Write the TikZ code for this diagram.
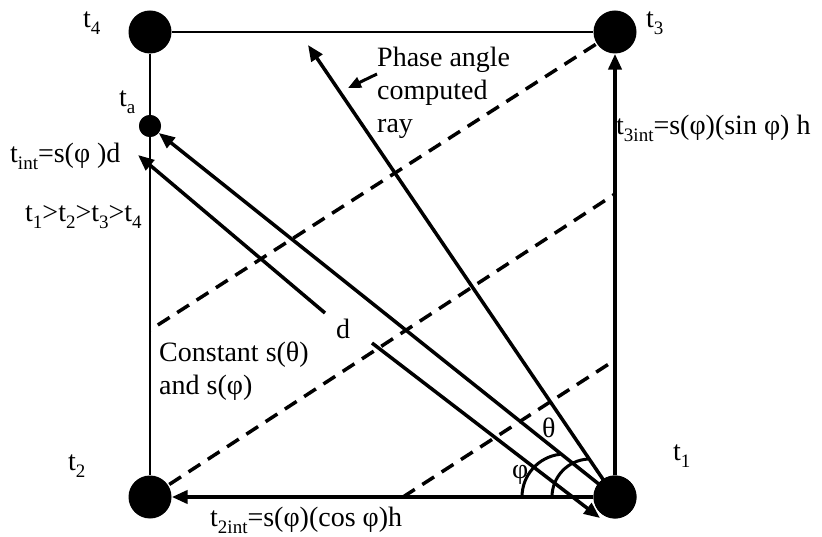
\documentclass[tikz,border=0pt]{standalone}
\usepackage{fontspec}
\setmainfont{Liberation Serif}
\usetikzlibrary{arrows.meta}
\newcommand\subs[1]{\raisebox{-0.25em}{\fontsize{19}{19}\selectfont #1}}
\begin{document}
\begin{tikzpicture}[x=1pt,y=-1pt,
  bigdot/.style={circle,fill=black,draw=none,minimum size=43pt,inner sep=0pt},
  smalldot/.style={circle,fill=black,draw=none,minimum size=22pt,inner sep=0pt},
  lbl/.style={inner sep=0pt,anchor=base west,font=\fontsize{28}{33}\selectfont},
  blk/.style={inner sep=0pt,anchor=north west,align=left,font=\fontsize{28}{33}\selectfont},
  thinline/.style={line width=1.5pt},
  thickarrow/.style={line width=4pt,-{Triangle[length=16pt,width=13pt]}},
  diagarrow/.style={line width=3.5pt,-{Triangle[length=16pt,width=13pt]}},
  dashline/.style={line width=3.5pt,dash pattern=on 14pt off 9pt},
  anglearc/.style={line width=3pt}]
\useasboundingbox (0,0) rectangle (822,537);
% corner dots
\node[bigdot] (t4) at (150,32) {};
\node[bigdot] (t3) at (615,32) {};
\node[bigdot] (t2) at (150,497) {};
\node[bigdot] (t1) at (615,497) {};
\node[smalldot] (ta) at (150,126) {};
% free ends
\coordinate (d1l) at (150,330);
\coordinate (d2r) at (615,194);
\coordinate (d3b) at (403,497);
\coordinate (d3r) at (615,360);
\coordinate (rayend) at (308,45);
\coordinate (dA) at (138,155);
\coordinate (dAg) at (325,313);
\coordinate (dBg) at (372,343);
\coordinate (dB) at (600,518);
\coordinate (pfrom) at (377,74);
\coordinate (pto) at (348,88);
% dashed lines
\draw[dashline] (t3.center) -- (d1l);
\draw[dashline] (t2.center) -- (d2r);
\draw[dashline] (d3b) -- (d3r);
% thin edges
\draw[thinline] (t4) -- (t3);
\draw[thinline] (t4) -- (t2);
% thick edges
\draw[thickarrow] (t1) -- (t3);
\draw[thickarrow] (t1) -- (t2);
% diagonal arrows
\draw[diagarrow] (t1.center) -- (ta);
\draw[diagarrow] (t1.center) -- (rayend);
\draw[diagarrow] (dAg) -- (dA);
\draw[diagarrow] (dBg) -- (dB);
\draw[line width=3pt,-{Triangle[length=13pt,width=11pt]}] (pfrom) -- (pto);
% angle arcs
\draw[anglearc] (522,497) arc[start angle=180,end angle=97,radius=43pt];
\draw[anglearc] (552,497) arc[start angle=180,end angle=93,radius=38pt];
% redraw dots on top
\node[bigdot] at (t1) {};
\node[smalldot] at (ta) {};
% labels
\node[lbl] (lt4) at (83,28) {t\subs{4}};
\node[lbl] (lt3) at (646,28) {t\subs{3}};
\node[lbl] (lta) at (119,107) {t\subs{a}};
\node[lbl] (ltint) at (10,163) {t\subs{int}=s(φ )d};
\node[lbl] (lord) at (25,222) {t\subs{1}>t\subs{2}>t\subs{3}>t\subs{4}};
\node[lbl] (lt3int) at (616,135) {t\subs{3int}=s(φ)(sin φ) h};
\node[blk] (phase) at (377,47) {Phase angle\\computed\\ray};
\node[lbl] (ld) at (336,338) {d};
\node[blk] (const) at (159,342) {Constant s(θ)\\and s(φ)};
\node[lbl] (lt2) at (68,470) {t\subs{2}};
\node[lbl] (lt2int) at (210,526) {t\subs{2int}=s(φ)(cos φ)h};
\node[lbl] (ltheta) at (542,437) {θ};
\node[lbl] (lphi) at (512,478) {φ};
\node[lbl] (lt1) at (673,460) {t\subs{1}};
\end{tikzpicture}
\end{document}
